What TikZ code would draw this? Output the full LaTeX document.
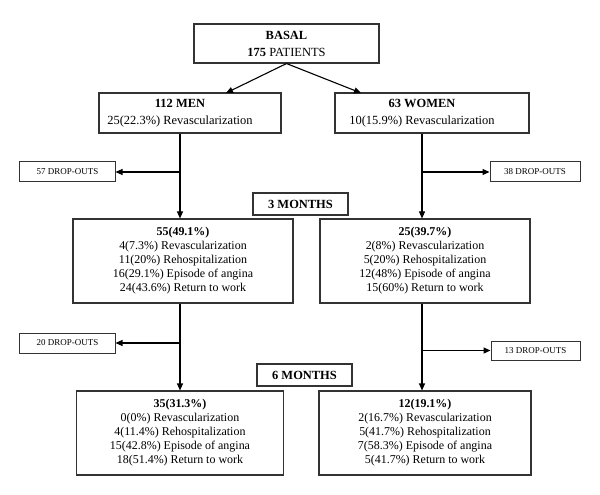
\documentclass[tikz,border=0pt]{standalone}
\usepackage{fontspec}
\setmainfont{Liberation Serif}
\usetikzlibrary{arrows.meta}
\begin{document}
\begin{tikzpicture}[x=1bp,y=-1bp,
  box/.style={draw=black!80, line width=1.1bp, rectangle, inner sep=0pt, align=center, font=\fontsize{12}{14}\selectfont},
  topbox/.style={box, font=\fontsize{12.5}{17}\selectfont},
  txt/.style={inner sep=0pt, align=center, font=\fontsize{12.5}{17}\selectfont},
  dobox/.style={draw=black!80, line width=1bp, rectangle, inner sep=0pt, font=\fontsize{9}{10}\selectfont},
  mbox/.style={draw=black!80, line width=1.1bp, rectangle, inner sep=0pt, font=\bfseries\fontsize{12.5}{14}\selectfont},
  arr/.style={line width=1.1bp, -{Triangle[length=7bp,width=6bp]}},
  ln/.style={line width=1.1bp}]
\useasboundingbox (0,0) rectangle (600,495);

\node[topbox, minimum width=185bp, minimum height=39bp] (basal) at (286.5,43.5) {\textbf{BASAL}\\\textbf{175} PATIENTS};
\node[box, minimum width=182bp, minimum height=40bp] (men) at (190,113) {};
\node[txt] (mentext) at (180,113) {\textbf{112 MEN}\\25(22.3\%) Revascularization};
\node[box, minimum width=194bp, minimum height=40bp] (women) at (432,113) {};
\node[txt] (womentext) at (422,113) {\textbf{63 WOMEN}\\10(15.9\%) Revascularization};

\coordinate (mt) at (226,93);
\coordinate (wt) at (361,93);
\draw[arr] (basal.south) -- (mt);
\draw[arr] (basal.south) -- (wt);

\node[dobox, minimum width=95bp, minimum height=20bp] (d57) at (67.5,172) {57 DROP-OUTS};
\node[dobox, minimum width=90bp, minimum height=20bp] (d38) at (535,172) {38 DROP-OUTS};

\node[mbox, minimum width=95bp, minimum height=22bp] (m3) at (300.5,204) {3 MONTHS};

\node[box, minimum width=220bp, minimum height=84bp] (n55) at (183,261) {\textbf{55(49.1\%)}\\4(7.3\%) Revascularization\\11(20\%) Rehospitalization\\16(29.1\%) Episode of angina\\24(43.6\%) Return to work};
\node[box, minimum width=210bp, minimum height=84bp] (n25) at (425,261) {\textbf{25(39.7\%)}\\2(8\%) Revascularization\\5(20\%) Rehospitalization\\12(48\%) Episode of angina\\15(60\%) Return to work};

\draw[arr] (men.south -| mentext) -- (mentext |- n55.north);
\draw[arr] (mentext |- d57.east) -- (d57.east);
\draw[arr] (women.south -| womentext) -- (womentext |- n25.north);
\draw[arr] (womentext |- d38.west) -- (d38.west);

\node[dobox, minimum width=95bp, minimum height=20bp] (d20) at (67.5,343) {20 DROP-OUTS};
\node[dobox, minimum width=89bp, minimum height=19bp] (d13) at (535.5,350.5) {13 DROP-OUTS};

\node[mbox, minimum width=95bp, minimum height=22bp] (m6) at (304.5,375) {6 MONTHS};

\node[box, minimum width=207bp, minimum height=84bp] (n35) at (180,433) {\textbf{35(31.3\%)}\\0(0\%) Revascularization\\4(11.4\%) Rehospitalization\\15(42.8\%) Episode of angina\\18(51.4\%) Return to work};
\node[box, minimum width=212bp, minimum height=84bp] (n12) at (425,433) {\textbf{12(19.1\%)}\\2(16.7\%) Revascularization\\5(41.7\%) Rehospitalization\\7(58.3\%) Episode of angina\\5(41.7\%) Return to work};

\draw[arr] (mentext |- n55.south) -- (mentext |- n35.north);
\draw[arr] (mentext |- d20.east) -- (d20.east);
\draw[arr] (womentext |- n25.south) -- (womentext |- n12.north);
\draw[arr] (womentext |- d13.west) -- (d13.west);
\end{tikzpicture}
\end{document}
